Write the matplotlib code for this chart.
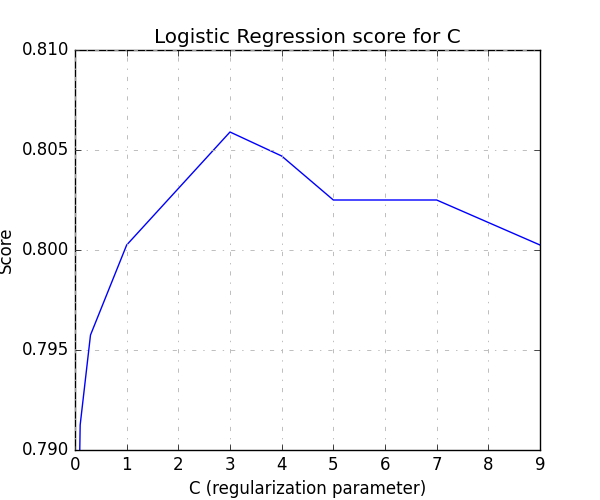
import matplotlib
matplotlib.use("Agg")
import matplotlib.pyplot as plt

C_values = [0.03, 0.1, 0.3, 1, 3, 4, 5, 7, 9]
scores = [0.780, 0.79125, 0.79575, 0.80025, 0.8059, 0.8047, 0.8025, 0.8025, 0.80025]

plt.style.use("classic")
fig, ax = plt.subplots(figsize=(6, 5), dpi=100)
fig.patch.set_facecolor("white")
ax.plot(C_values, scores, color="blue")
ax.set_xlim(0, 9)
ax.set_ylim(0.790, 0.810)
ax.set_yticks([0.790, 0.795, 0.800, 0.805, 0.810])
ax.yaxis.set_major_formatter(matplotlib.ticker.FormatStrFormatter("%.3f"))
ax.grid(True, linestyle="-.", color="0.7", linewidth=0.6)
ax.set_title("Logistic Regression score for C")
ax.set_xlabel("C (regularization parameter)")
ax.set_ylabel("Score")
plt.savefig("out.png", dpi=100, facecolor="white")
